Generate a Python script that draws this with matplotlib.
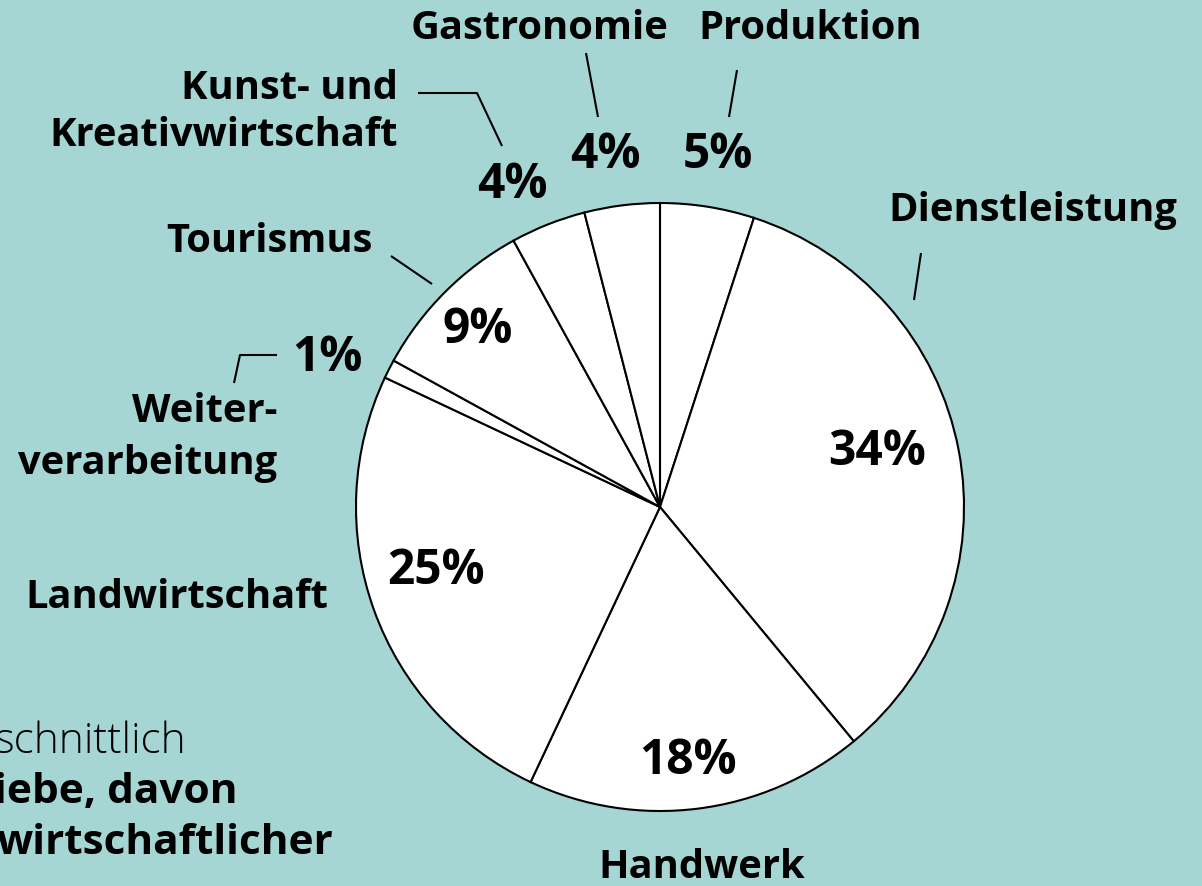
import matplotlib.pyplot as plt

# Anteile der Betriebe nach Branche (im Uhrzeigersinn ab 12 Uhr)
branchen = ["Produktion", "Dienstleistung", "Handwerk", "Landwirtschaft",
            "Weiterverarbeitung", "Tourismus", "Kunst- und Kreativwirtschaft",
            "Gastronomie"]
anteile = [5, 34, 18, 25, 1, 9, 4, 4]

BG = "#a5d6d3"
W, H = 1202, 886

plt.rcParams['font.family'] = ['Open Sans', 'DejaVu Sans']

fig = plt.figure(figsize=(W / 100, H / 100), dpi=100, facecolor=BG)
ax = fig.add_axes([0, 0, 1, 1])
ax.set_facecolor(BG)


def py(y):
    # pixel row from top -> data y
    return H - y


ax.pie(anteile, center=(660, py(507)), radius=304, startangle=90,
       counterclock=False, colors=["white"] * len(anteile),
       wedgeprops=dict(edgecolor="black", linewidth=1.5), frame=True)
ax.set_xlim(0, W)
ax.set_ylim(0, H)
ax.set_aspect('equal')
ax.axis('off')

# Prozentwerte (Position in Pixeln)
pct_pos = [(718, 155), (877, 452), (688, 762), (436, 572),
           (327, 358), (478, 330), (512, 185), (605, 155)]
for val, (x, y) in zip(anteile, pct_pos):
    ax.text(x, py(y), f"{val}%", fontsize=34.5, fontweight="bold",
            ha="center", va="center", color="black")

# Branchennamen
lab = dict(fontsize=28.7, fontweight="bold", color="black", va="center")
ax.text(540, py(28), "Gastronomie", ha="center", **lab)
ax.text(810, py(28), "Produktion", ha="center", **lab)
ax.text(398, py(88), "Kunst- und", ha="right", **lab)
ax.text(398, py(135), "Kreativwirtschaft", ha="right", **lab)
ax.text(373, py(241), "Tourismus", ha="right", **lab)
ax.text(277, py(411), "Weiter-", ha="right", **lab)
ax.text(277, py(463), "verarbeitung", ha="right", **lab)
ax.text(328, py(597), "Landwirtschaft", ha="right", **lab)
ax.text(702, py(868), "Handwerk", ha="center", **lab)
ax.text(1033, py(210), "Dienstleistung", ha="center", **lab)

# Verbindungslinien
leader = [
    [(418, 93), (477, 93), (502, 146)],
    [(586, 53), (598, 117)],
    [(737, 70), (729, 117)],
    [(921, 253), (914, 300)],
    [(391, 256), (432, 284)],
    [(234, 383), (240, 355), (277, 355)],
]
for pts in leader:
    xs = [p[0] for p in pts]
    ys = [py(p[1]) for p in pts]
    ax.plot(xs, ys, color="black", linewidth=1.5, solid_capstyle="butt")

# angeschnittener Begleittext links unten (läuft über den linken Rand hinaus)
ax.text(186, py(742), "schnittlich", fontsize=30.5, fontweight="light",
        ha="right", va="center", color="black")
ax.text(237, py(793), "iebe, davon", fontsize=30.5, fontweight="bold",
        ha="right", va="center", color="black")
ax.text(333, py(843), "wirtschaftlicher", fontsize=30.5, fontweight="bold",
        ha="right", va="center", color="black")

fig.savefig("out.png", dpi=100, facecolor=BG)
